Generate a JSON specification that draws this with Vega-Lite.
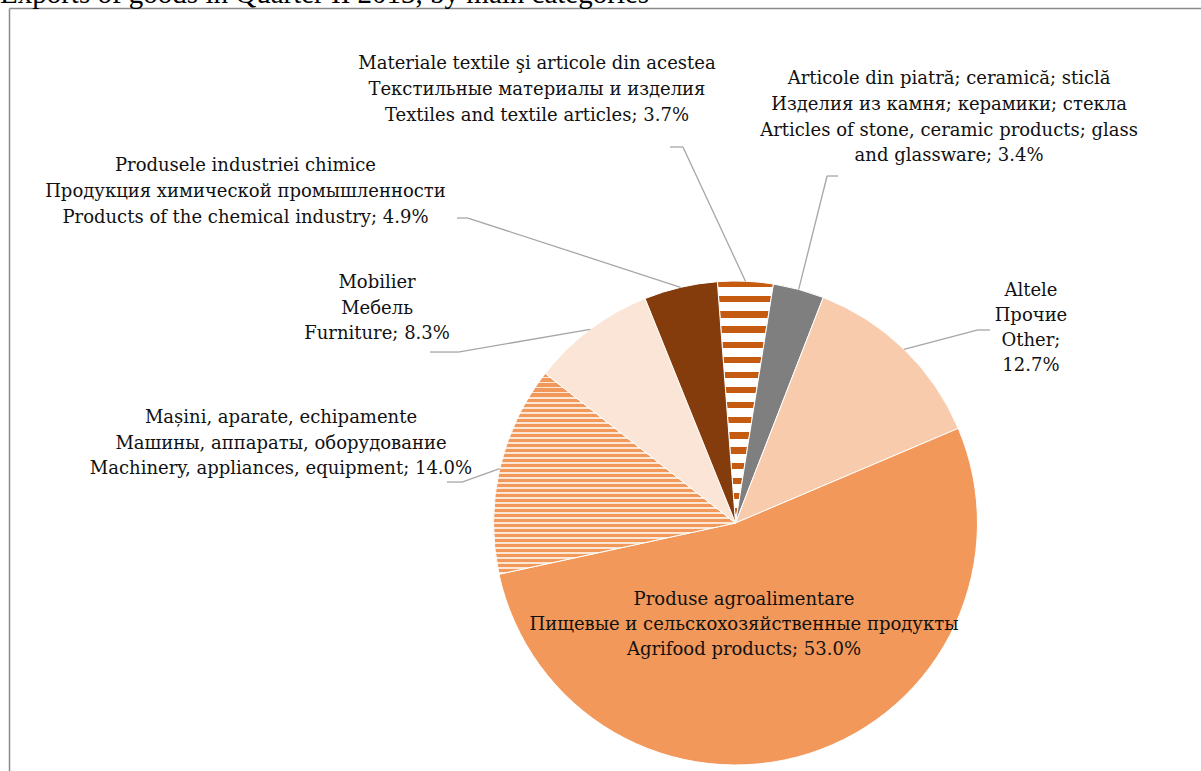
{
  "$schema": "https://vega.github.io/schema/vega-lite/v6.json",
  "width": 1201,
  "height": 771,
  "autosize": {"type": "none"},
  "padding": 0,
  "background": "white",
  "config": {"axis": {"disable": true}, "view": {"stroke": null}},
  "datasets": {
    "slices": [
      {"order": 1, "key": "textile", "value": 3.7, "label": "Materiale textile şi articole din acestea\nТекстильные материалы и изделия\nTextiles and textile articles; 3.7%"},
      {"order": 2, "key": "stone", "value": 3.4, "label": "Articole din piatră; ceramică; sticlă\nИзделия из камня; керамики; стекла\nArticles of stone, ceramic products; glass\nand glassware; 3.4%"},
      {"order": 3, "key": "other", "value": 12.7, "label": "Altele\nПрочие\nOther;\n12.7%"},
      {"order": 4, "key": "agrifood", "value": 53.0, "label": "Produse agroalimentare\nПищевые и сельскохозяйственные продукты\nAgrifood products; 53.0%"},
      {"order": 5, "key": "machinery", "value": 14.0, "label": "Mașini, aparate, echipamente\nМашины, аппараты, оборудование\nMachinery, appliances, equipment; 14.0%"},
      {"order": 6, "key": "furniture", "value": 8.3, "label": "Mobilier\nМебель\nFurniture; 8.3%"},
      {"order": 7, "key": "chemical", "value": 4.9, "label": "Produsele industriei chimice\nПродукция химической промышленности\nProducts of the chemical industry; 4.9%"}
    ],
    "frame": [{"f": 1}],
    "heading": [{"t": "Exports of goods in Quarter II 2013, by main categories"}]
  },
  "layer": [
    {
      "data": {"name": "frame"},
      "mark": {"type": "rule", "color": "#8A8A8A", "strokeWidth": 1.5},
      "encoding": {
        "x": {"datum": -3.0, "type": "quantitative", "scale": {"domain": [-3.0393, 1.9236], "nice": false, "zero": false}},
        "y": {"datum": 2.126, "type": "quantitative", "scale": {"domain": [-1.0248, 2.1612], "nice": false, "zero": false}},
        "y2": {"datum": -1.1}
      }
    },
    {
      "data": {"name": "frame"},
      "mark": {"type": "rule", "color": "#8A8A8A", "strokeWidth": 1.5},
      "encoding": {
        "x": {"datum": -3.0, "type": "quantitative"},
        "x2": {"datum": 2.0},
        "y": {"datum": 2.126, "type": "quantitative"}
      }
    },
    {
      "data": {"name": "heading"},
      "mark": {"type": "text", "align": "left", "baseline": "alphabetic", "font": "Liberation Serif", "fontSize": 29, "color": "black"},
      "encoding": {
        "x": {"datum": -3.0393, "type": "quantitative"},
        "y": {"datum": 2.1488, "type": "quantitative"},
        "text": {"field": "t"}
      }
    },
    {
      "data": {"name": "slices"},
      "transform": [
        {"window": [{"op": "sum", "field": "value", "as": "cum"}], "sort": [{"field": "order"}], "frame": [null, 0]},
        {"calculate": "-0.07505 + 2*PI*(datum.cum - datum.value/2)/100", "as": "mid"},
        {"calculate": "sin(datum.mid)", "as": "ex"},
        {"calculate": "cos(datum.mid)", "as": "ey"}
      ],
      "layer": [
        {
          "mark": {"type": "arc", "outerRadius": 242, "stroke": "white", "strokeWidth": 1},
          "encoding": {
            "theta": {"field": "value", "type": "quantitative", "stack": true, "scale": {"type": "linear", "domain": [0, 100], "range": [-0.07505, 6.208135]}},
            "order": {"field": "order", "type": "quantitative", "sort": "ascending"},
            "x": {"datum": 0, "type": "quantitative"},
            "y": {"datum": 0, "type": "quantitative"},
            "color": {
              "field": "key",
              "type": "nominal",
              "legend": null,
              "scale": {
                "domain": ["textile", "stone", "other", "agrifood", "machinery", "furniture", "chemical"],
                "range": ["#E0A37C", "#7F7F7F", "#F8CBAD", "#F1985A", "#F2A26C", "#FBE5D6", "#843C0C"]
              },
              "condition": [
                {"test": "datum.key === 'textile'", "value": {"gradient": "linear", "x1": 0, "y1": 0, "x2": 0, "y2": 1, "stops": [
                  {"offset": 0, "color": "#C55A11"}, {"offset": 0.026, "color": "#C55A11"}, {"offset": 0.026, "color": "#FFFFFF"}, {"offset": 0.0625, "color": "#FFFFFF"},
                  {"offset": 0.0625, "color": "#C55A11"}, {"offset": 0.0885, "color": "#C55A11"}, {"offset": 0.0885, "color": "#FFFFFF"}, {"offset": 0.125, "color": "#FFFFFF"},
                  {"offset": 0.125, "color": "#C55A11"}, {"offset": 0.151, "color": "#C55A11"}, {"offset": 0.151, "color": "#FFFFFF"}, {"offset": 0.1875, "color": "#FFFFFF"},
                  {"offset": 0.1875, "color": "#C55A11"}, {"offset": 0.2135, "color": "#C55A11"}, {"offset": 0.2135, "color": "#FFFFFF"}, {"offset": 0.25, "color": "#FFFFFF"},
                  {"offset": 0.25, "color": "#C55A11"}, {"offset": 0.276, "color": "#C55A11"}, {"offset": 0.276, "color": "#FFFFFF"}, {"offset": 0.3125, "color": "#FFFFFF"},
                  {"offset": 0.3125, "color": "#C55A11"}, {"offset": 0.3385, "color": "#C55A11"}, {"offset": 0.3385, "color": "#FFFFFF"}, {"offset": 0.375, "color": "#FFFFFF"},
                  {"offset": 0.375, "color": "#C55A11"}, {"offset": 0.401, "color": "#C55A11"}, {"offset": 0.401, "color": "#FFFFFF"}, {"offset": 0.4375, "color": "#FFFFFF"},
                  {"offset": 0.4375, "color": "#C55A11"}, {"offset": 0.4635, "color": "#C55A11"}, {"offset": 0.4635, "color": "#FFFFFF"}, {"offset": 0.5, "color": "#FFFFFF"},
                  {"offset": 0.5, "color": "#C55A11"}, {"offset": 0.526, "color": "#C55A11"}, {"offset": 0.526, "color": "#FFFFFF"}, {"offset": 0.5625, "color": "#FFFFFF"},
                  {"offset": 0.5625, "color": "#C55A11"}, {"offset": 0.5885, "color": "#C55A11"}, {"offset": 0.5885, "color": "#FFFFFF"}, {"offset": 0.625, "color": "#FFFFFF"},
                  {"offset": 0.625, "color": "#C55A11"}, {"offset": 0.651, "color": "#C55A11"}, {"offset": 0.651, "color": "#FFFFFF"}, {"offset": 0.6875, "color": "#FFFFFF"},
                  {"offset": 0.6875, "color": "#C55A11"}, {"offset": 0.7135, "color": "#C55A11"}, {"offset": 0.7135, "color": "#FFFFFF"}, {"offset": 0.75, "color": "#FFFFFF"},
                  {"offset": 0.75, "color": "#C55A11"}, {"offset": 0.776, "color": "#C55A11"}, {"offset": 0.776, "color": "#FFFFFF"}, {"offset": 0.8125, "color": "#FFFFFF"},
                  {"offset": 0.8125, "color": "#C55A11"}, {"offset": 0.8385, "color": "#C55A11"}, {"offset": 0.8385, "color": "#FFFFFF"}, {"offset": 0.875, "color": "#FFFFFF"},
                  {"offset": 0.875, "color": "#C55A11"}, {"offset": 0.901, "color": "#C55A11"}, {"offset": 0.901, "color": "#FFFFFF"}, {"offset": 0.9375, "color": "#FFFFFF"},
                  {"offset": 0.9375, "color": "#C55A11"}, {"offset": 0.9635, "color": "#C55A11"}, {"offset": 0.9635, "color": "#FFFFFF"}, {"offset": 1, "color": "#FFFFFF"}
                ]}},
                {"test": "datum.key === 'machinery'", "value": {"gradient": "linear", "x1": 0, "y1": 0, "x2": 0, "y2": 1, "stops": [
                  {"offset": 0, "color": "#F0995A"}, {"offset": 0.016, "color": "#F0995A"}, {"offset": 0.016, "color": "#FCE6D6"}, {"offset": 0.025, "color": "#FCE6D6"},
                  {"offset": 0.025, "color": "#F0995A"}, {"offset": 0.041, "color": "#F0995A"}, {"offset": 0.041, "color": "#FCE6D6"}, {"offset": 0.05, "color": "#FCE6D6"},
                  {"offset": 0.05, "color": "#F0995A"}, {"offset": 0.066, "color": "#F0995A"}, {"offset": 0.066, "color": "#FCE6D6"}, {"offset": 0.075, "color": "#FCE6D6"},
                  {"offset": 0.075, "color": "#F0995A"}, {"offset": 0.091, "color": "#F0995A"}, {"offset": 0.091, "color": "#FCE6D6"}, {"offset": 0.1, "color": "#FCE6D6"},
                  {"offset": 0.1, "color": "#F0995A"}, {"offset": 0.116, "color": "#F0995A"}, {"offset": 0.116, "color": "#FCE6D6"}, {"offset": 0.125, "color": "#FCE6D6"},
                  {"offset": 0.125, "color": "#F0995A"}, {"offset": 0.141, "color": "#F0995A"}, {"offset": 0.141, "color": "#FCE6D6"}, {"offset": 0.15, "color": "#FCE6D6"},
                  {"offset": 0.15, "color": "#F0995A"}, {"offset": 0.166, "color": "#F0995A"}, {"offset": 0.166, "color": "#FCE6D6"}, {"offset": 0.175, "color": "#FCE6D6"},
                  {"offset": 0.175, "color": "#F0995A"}, {"offset": 0.191, "color": "#F0995A"}, {"offset": 0.191, "color": "#FCE6D6"}, {"offset": 0.2, "color": "#FCE6D6"},
                  {"offset": 0.2, "color": "#F0995A"}, {"offset": 0.216, "color": "#F0995A"}, {"offset": 0.216, "color": "#FCE6D6"}, {"offset": 0.225, "color": "#FCE6D6"},
                  {"offset": 0.225, "color": "#F0995A"}, {"offset": 0.241, "color": "#F0995A"}, {"offset": 0.241, "color": "#FCE6D6"}, {"offset": 0.25, "color": "#FCE6D6"},
                  {"offset": 0.25, "color": "#F0995A"}, {"offset": 0.266, "color": "#F0995A"}, {"offset": 0.266, "color": "#FCE6D6"}, {"offset": 0.275, "color": "#FCE6D6"},
                  {"offset": 0.275, "color": "#F0995A"}, {"offset": 0.291, "color": "#F0995A"}, {"offset": 0.291, "color": "#FCE6D6"}, {"offset": 0.3, "color": "#FCE6D6"},
                  {"offset": 0.3, "color": "#F0995A"}, {"offset": 0.316, "color": "#F0995A"}, {"offset": 0.316, "color": "#FCE6D6"}, {"offset": 0.325, "color": "#FCE6D6"},
                  {"offset": 0.325, "color": "#F0995A"}, {"offset": 0.341, "color": "#F0995A"}, {"offset": 0.341, "color": "#FCE6D6"}, {"offset": 0.35, "color": "#FCE6D6"},
                  {"offset": 0.35, "color": "#F0995A"}, {"offset": 0.366, "color": "#F0995A"}, {"offset": 0.366, "color": "#FCE6D6"}, {"offset": 0.375, "color": "#FCE6D6"},
                  {"offset": 0.375, "color": "#F0995A"}, {"offset": 0.391, "color": "#F0995A"}, {"offset": 0.391, "color": "#FCE6D6"}, {"offset": 0.4, "color": "#FCE6D6"},
                  {"offset": 0.4, "color": "#F0995A"}, {"offset": 0.416, "color": "#F0995A"}, {"offset": 0.416, "color": "#FCE6D6"}, {"offset": 0.425, "color": "#FCE6D6"},
                  {"offset": 0.425, "color": "#F0995A"}, {"offset": 0.441, "color": "#F0995A"}, {"offset": 0.441, "color": "#FCE6D6"}, {"offset": 0.45, "color": "#FCE6D6"},
                  {"offset": 0.45, "color": "#F0995A"}, {"offset": 0.466, "color": "#F0995A"}, {"offset": 0.466, "color": "#FCE6D6"}, {"offset": 0.475, "color": "#FCE6D6"},
                  {"offset": 0.475, "color": "#F0995A"}, {"offset": 0.491, "color": "#F0995A"}, {"offset": 0.491, "color": "#FCE6D6"}, {"offset": 0.5, "color": "#FCE6D6"},
                  {"offset": 0.5, "color": "#F0995A"}, {"offset": 0.516, "color": "#F0995A"}, {"offset": 0.516, "color": "#FCE6D6"}, {"offset": 0.525, "color": "#FCE6D6"},
                  {"offset": 0.525, "color": "#F0995A"}, {"offset": 0.541, "color": "#F0995A"}, {"offset": 0.541, "color": "#FCE6D6"}, {"offset": 0.55, "color": "#FCE6D6"},
                  {"offset": 0.55, "color": "#F0995A"}, {"offset": 0.566, "color": "#F0995A"}, {"offset": 0.566, "color": "#FCE6D6"}, {"offset": 0.575, "color": "#FCE6D6"},
                  {"offset": 0.575, "color": "#F0995A"}, {"offset": 0.591, "color": "#F0995A"}, {"offset": 0.591, "color": "#FCE6D6"}, {"offset": 0.6, "color": "#FCE6D6"},
                  {"offset": 0.6, "color": "#F0995A"}, {"offset": 0.616, "color": "#F0995A"}, {"offset": 0.616, "color": "#FCE6D6"}, {"offset": 0.625, "color": "#FCE6D6"},
                  {"offset": 0.625, "color": "#F0995A"}, {"offset": 0.641, "color": "#F0995A"}, {"offset": 0.641, "color": "#FCE6D6"}, {"offset": 0.65, "color": "#FCE6D6"},
                  {"offset": 0.65, "color": "#F0995A"}, {"offset": 0.666, "color": "#F0995A"}, {"offset": 0.666, "color": "#FCE6D6"}, {"offset": 0.675, "color": "#FCE6D6"},
                  {"offset": 0.675, "color": "#F0995A"}, {"offset": 0.691, "color": "#F0995A"}, {"offset": 0.691, "color": "#FCE6D6"}, {"offset": 0.7, "color": "#FCE6D6"},
                  {"offset": 0.7, "color": "#F0995A"}, {"offset": 0.716, "color": "#F0995A"}, {"offset": 0.716, "color": "#FCE6D6"}, {"offset": 0.725, "color": "#FCE6D6"},
                  {"offset": 0.725, "color": "#F0995A"}, {"offset": 0.741, "color": "#F0995A"}, {"offset": 0.741, "color": "#FCE6D6"}, {"offset": 0.75, "color": "#FCE6D6"},
                  {"offset": 0.75, "color": "#F0995A"}, {"offset": 0.766, "color": "#F0995A"}, {"offset": 0.766, "color": "#FCE6D6"}, {"offset": 0.775, "color": "#FCE6D6"},
                  {"offset": 0.775, "color": "#F0995A"}, {"offset": 0.791, "color": "#F0995A"}, {"offset": 0.791, "color": "#FCE6D6"}, {"offset": 0.8, "color": "#FCE6D6"},
                  {"offset": 0.8, "color": "#F0995A"}, {"offset": 0.816, "color": "#F0995A"}, {"offset": 0.816, "color": "#FCE6D6"}, {"offset": 0.825, "color": "#FCE6D6"},
                  {"offset": 0.825, "color": "#F0995A"}, {"offset": 0.841, "color": "#F0995A"}, {"offset": 0.841, "color": "#FCE6D6"}, {"offset": 0.85, "color": "#FCE6D6"},
                  {"offset": 0.85, "color": "#F0995A"}, {"offset": 0.866, "color": "#F0995A"}, {"offset": 0.866, "color": "#FCE6D6"}, {"offset": 0.875, "color": "#FCE6D6"},
                  {"offset": 0.875, "color": "#F0995A"}, {"offset": 0.891, "color": "#F0995A"}, {"offset": 0.891, "color": "#FCE6D6"}, {"offset": 0.9, "color": "#FCE6D6"},
                  {"offset": 0.9, "color": "#F0995A"}, {"offset": 0.916, "color": "#F0995A"}, {"offset": 0.916, "color": "#FCE6D6"}, {"offset": 0.925, "color": "#FCE6D6"},
                  {"offset": 0.925, "color": "#F0995A"}, {"offset": 0.941, "color": "#F0995A"}, {"offset": 0.941, "color": "#FCE6D6"}, {"offset": 0.95, "color": "#FCE6D6"},
                  {"offset": 0.95, "color": "#F0995A"}, {"offset": 0.966, "color": "#F0995A"}, {"offset": 0.966, "color": "#FCE6D6"}, {"offset": 0.975, "color": "#FCE6D6"},
                  {"offset": 0.975, "color": "#F0995A"}, {"offset": 0.991, "color": "#F0995A"}, {"offset": 0.991, "color": "#FCE6D6"}, {"offset": 1, "color": "#FCE6D6"}
                ]}}
              ]
            }
          }
        },
        {
          "transform": [{"filter": "datum.key === 'textile'"}],
          "layer": [
            {"mark": {"type": "rule", "color": "#A6A6A6", "strokeWidth": 1.3, "x2Offset": -62.5, "y2Offset": -134.2},
             "encoding": {"x": {"field": "ex", "type": "quantitative"}, "y": {"field": "ey", "type": "quantitative"}, "x2": {"field": "ex"}, "y2": {"field": "ey"}}},
            {"mark": {"type": "rule", "color": "#A6A6A6", "strokeWidth": 1.3, "xOffset": -62.5, "yOffset": -134.2, "x2Offset": -75.5, "y2Offset": -134.2},
             "encoding": {"x": {"field": "ex", "type": "quantitative"}, "y": {"field": "ey", "type": "quantitative"}, "x2": {"field": "ex"}, "y2": {"field": "ey"}}},
            {"mark": {"type": "text", "dx": -208.5, "dy": -217.2, "align": "center", "baseline": "middle", "lineBreak": "\n", "lineHeight": 25.8, "font": "DejaVu Serif", "fontSize": 18, "color": "#111111"},
             "encoding": {"x": {"field": "ex", "type": "quantitative"}, "y": {"field": "ey", "type": "quantitative"}, "text": {"field": "label"}}}
          ]
        },
        {
          "transform": [{"filter": "datum.key === 'stone'"}],
          "layer": [
            {"mark": {"type": "rule", "color": "#A6A6A6", "strokeWidth": 1.3, "x2Offset": 28.4, "y2Offset": -113.4},
             "encoding": {"x": {"field": "ex", "type": "quantitative"}, "y": {"field": "ey", "type": "quantitative"}, "x2": {"field": "ex"}, "y2": {"field": "ey"}}},
            {"mark": {"type": "rule", "color": "#A6A6A6", "strokeWidth": 1.3, "xOffset": 28.4, "yOffset": -113.4, "x2Offset": 39.4, "y2Offset": -113.4},
             "encoding": {"x": {"field": "ex", "type": "quantitative"}, "y": {"field": "ey", "type": "quantitative"}, "x2": {"field": "ex"}, "y2": {"field": "ey"}}},
            {"mark": {"type": "text", "dx": 150.4, "dy": -210.4, "align": "center", "baseline": "middle", "lineBreak": "\n", "lineHeight": 25.8, "font": "DejaVu Serif", "fontSize": 18, "color": "#111111"},
             "encoding": {"x": {"field": "ex", "type": "quantitative"}, "y": {"field": "ey", "type": "quantitative"}, "text": {"field": "label"}}}
          ]
        },
        {
          "transform": [{"filter": "datum.key === 'other'"}],
          "layer": [
            {"mark": {"type": "rule", "color": "#A6A6A6", "strokeWidth": 1.3, "x2Offset": 74, "y2Offset": -19.3},
             "encoding": {"x": {"field": "ex", "type": "quantitative"}, "y": {"field": "ey", "type": "quantitative"}, "x2": {"field": "ex"}, "y2": {"field": "ey"}}},
            {"mark": {"type": "rule", "color": "#A6A6A6", "strokeWidth": 1.3, "xOffset": 74, "yOffset": -19.3, "x2Offset": 86, "y2Offset": -19.3},
             "encoding": {"x": {"field": "ex", "type": "quantitative"}, "y": {"field": "ey", "type": "quantitative"}, "x2": {"field": "ex"}, "y2": {"field": "ey"}}},
            {"mark": {"type": "text", "dx": 127, "dy": -58.3, "align": "center", "baseline": "middle", "lineBreak": "\n", "lineHeight": 25, "font": "DejaVu Serif", "fontSize": 18, "color": "#111111"},
             "encoding": {"x": {"field": "ex", "type": "quantitative"}, "y": {"field": "ey", "type": "quantitative"}, "text": {"field": "label"}}}
          ]
        },
        {
          "transform": [{"filter": "datum.key === 'agrifood'"}],
          "mark": {"type": "text", "dx": -64.8, "dy": -153.7, "align": "center", "baseline": "middle", "lineBreak": "\n", "lineHeight": 25, "font": "DejaVu Serif", "fontSize": 18, "color": "#111111"},
          "encoding": {"x": {"field": "ex", "type": "quantitative"}, "y": {"field": "ey", "type": "quantitative"}, "text": {"field": "label"}}
        },
        {
          "transform": [{"filter": "datum.key === 'machinery'"}],
          "layer": [
            {"mark": {"type": "rule", "color": "#A6A6A6", "strokeWidth": 1.3, "x2Offset": -37.7, "y2Offset": 13.4},
             "encoding": {"x": {"field": "ex", "type": "quantitative"}, "y": {"field": "ey", "type": "quantitative"}, "x2": {"field": "ex"}, "y2": {"field": "ey"}}},
            {"mark": {"type": "rule", "color": "#A6A6A6", "strokeWidth": 1.3, "xOffset": -37.7, "yOffset": 13.4, "x2Offset": -52.7, "y2Offset": 13.4},
             "encoding": {"x": {"field": "ex", "type": "quantitative"}, "y": {"field": "ey", "type": "quantitative"}, "x2": {"field": "ex"}, "y2": {"field": "ey"}}},
            {"mark": {"type": "text", "dx": -218.7, "dy": -50.6, "align": "center", "baseline": "middle", "lineBreak": "\n", "lineHeight": 25.5, "font": "DejaVu Serif", "fontSize": 18, "color": "#111111"},
             "encoding": {"x": {"field": "ex", "type": "quantitative"}, "y": {"field": "ey", "type": "quantitative"}, "text": {"field": "label"}}}
          ]
        },
        {
          "transform": [{"filter": "datum.key === 'furniture'"}],
          "layer": [
            {"mark": {"type": "rule", "color": "#A6A6A6", "strokeWidth": 1.3, "x2Offset": -132.2, "y2Offset": 22.6},
             "encoding": {"x": {"field": "ex", "type": "quantitative"}, "y": {"field": "ey", "type": "quantitative"}, "x2": {"field": "ex"}, "y2": {"field": "ey"}}},
            {"mark": {"type": "rule", "color": "#A6A6A6", "strokeWidth": 1.3, "xOffset": -132.2, "yOffset": 22.6, "x2Offset": -160.2, "y2Offset": 22.6},
             "encoding": {"x": {"field": "ex", "type": "quantitative"}, "y": {"field": "ey", "type": "quantitative"}, "x2": {"field": "ex"}, "y2": {"field": "ey"}}},
            {"mark": {"type": "text", "dx": -213.2, "dy": -46.4, "align": "center", "baseline": "middle", "lineBreak": "\n", "lineHeight": 25.5, "font": "DejaVu Serif", "fontSize": 18, "color": "#111111"},
             "encoding": {"x": {"field": "ex", "type": "quantitative"}, "y": {"field": "ey", "type": "quantitative"}, "text": {"field": "label"}}}
          ]
        },
        {
          "transform": [{"filter": "datum.key === 'chemical'"}],
          "layer": [
            {"mark": {"type": "rule", "color": "#A6A6A6", "strokeWidth": 1.3, "x2Offset": -212.6, "y2Offset": -69.3},
             "encoding": {"x": {"field": "ex", "type": "quantitative"}, "y": {"field": "ey", "type": "quantitative"}, "x2": {"field": "ex"}, "y2": {"field": "ey"}}},
            {"mark": {"type": "rule", "color": "#A6A6A6", "strokeWidth": 1.3, "xOffset": -212.6, "yOffset": -69.3, "x2Offset": -223.6, "y2Offset": -69.3},
             "encoding": {"x": {"field": "ex", "type": "quantitative"}, "y": {"field": "ey", "type": "quantitative"}, "x2": {"field": "ex"}, "y2": {"field": "ey"}}},
            {"mark": {"type": "text", "dx": -435.1, "dy": -121.3, "align": "center", "baseline": "middle", "lineBreak": "\n", "lineHeight": 25.8, "font": "DejaVu Serif", "fontSize": 18, "color": "#111111"},
             "encoding": {"x": {"field": "ex", "type": "quantitative"}, "y": {"field": "ey", "type": "quantitative"}, "text": {"field": "label"}}}
          ]
        }
      ]
    }
  ]
}
